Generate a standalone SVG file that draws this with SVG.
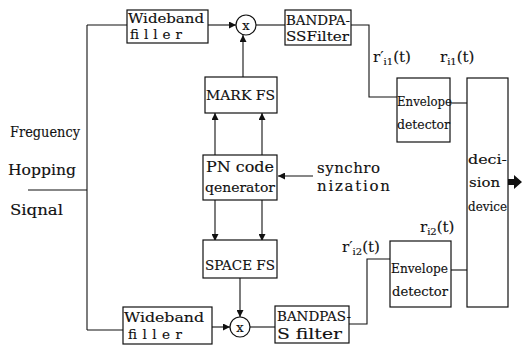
<svg xmlns="http://www.w3.org/2000/svg" width="525" height="345" viewBox="0 0 525 345">
<style>
  .box{fill:#fff;stroke:#111;stroke-width:1.2}
  .ln{fill:none;stroke:#111;stroke-width:1.1}
  .t{fill:#111;font-size:15px;stroke:#111;stroke-width:0.15}
  .s{font-size:13px}
  .w{font-size:13.5px}
  .sub{font-size:10px}
</style>
<defs>
  <marker id="ah" viewBox="0 0 10 10" refX="10" refY="5" markerWidth="7" markerHeight="7" orient="auto" markerUnits="userSpaceOnUse">
    <path d="M0,0 L10,5 L0,10 z" fill="#111"/>
  </marker>
</defs>
<rect width="525" height="345" fill="#fff"/>
<g id="connectors">
  <path class="ln" d="M28,190 H87"/>
  <path class="ln" d="M87,25 V330"/>
  <path class="ln" d="M87,25 H127"/>
  <path class="ln" d="M87,330 H123"/>
  <path class="ln" d="M208,25 H236" marker-end="url(#ah)"/>
  <path class="ln" d="M256,25 H285"/>
  <path class="ln" d="M243,77 V35" marker-end="url(#ah)"/>
  <path class="ln" d="M351,25 H369 V97 H397"/>
  <path class="ln" d="M450,103 H467"/>
  <path class="ln" d="M215,155 V113" marker-end="url(#ah)"/>
  <path class="ln" d="M262,155 V113" marker-end="url(#ah)"/>
  <path class="ln" d="M215,200 V241" marker-end="url(#ah)"/>
  <path class="ln" d="M262,200 V241" marker-end="url(#ah)"/>
  <path class="ln" d="M313,176 H278" marker-end="url(#ah)"/>
  <path class="ln" d="M240,278 V317" marker-end="url(#ah)"/>
  <path class="ln" d="M212,327 H230" marker-end="url(#ah)"/>
  <path class="ln" d="M250,327 H275"/>
  <path class="ln" d="M349,324 H367 V259 H390"/>
  <path class="ln" d="M451,270 H467"/>
  <path d="M508,179 H514 V175 L522,182 L514,189 V185 H508 z" fill="#111"/>
</g>
<g font-family="DejaVu Serif, Liberation Serif, Times New Roman, serif">
<g id="input-label" class="t">
  <text x="10" y="137" textLength="70" lengthAdjust="spacingAndGlyphs">Freguency</text>
  <text x="8" y="175" textLength="68" lengthAdjust="spacingAndGlyphs">Hopping</text>
  <text x="10" y="215" textLength="53" lengthAdjust="spacingAndGlyphs">Siqnal</text>
</g>
<g id="wideband-top" class="t">
  <rect class="box" x="127" y="10" width="81" height="33"/>
  <text x="128" y="23" class="w" textLength="76" lengthAdjust="spacingAndGlyphs">Wideband</text>
  <text x="130" y="39" class="w" textLength="52" lengthAdjust="spacing">filler</text>
</g>
<g id="mult-top" class="t">
  <circle class="box" cx="246" cy="25" r="10"/>
  <text x="246" y="30" text-anchor="middle" class="s">x</text>
</g>
<g id="bandpass-top" class="t">
  <rect class="box" x="285" y="10" width="66" height="35"/>
  <text x="286" y="25" class="s" textLength="64" lengthAdjust="spacingAndGlyphs">BANDPA-</text>
  <text x="286" y="41" class="s" textLength="63" lengthAdjust="spacingAndGlyphs">SSFilter</text>
</g>
<g id="envelope-top" class="t">
  <rect class="box" x="397" y="78" width="53" height="64"/>
  <text x="397" y="106" class="s" textLength="55" lengthAdjust="spacingAndGlyphs">Envelope</text>
  <text x="397" y="129" class="s" textLength="53" lengthAdjust="spacingAndGlyphs">detector</text>
</g>
<g id="mark-fs" class="t">
  <rect class="box" x="205" y="77" width="72" height="36"/>
  <text x="206" y="100" class="s" textLength="69" lengthAdjust="spacingAndGlyphs">MARK FS</text>
</g>
<g id="pn-code" class="t">
  <rect class="box" x="203" y="155" width="74" height="45"/>
  <text x="206" y="172" textLength="68" lengthAdjust="spacingAndGlyphs">PN code</text>
  <text x="205" y="192" class="s" textLength="70" lengthAdjust="spacingAndGlyphs">qenerator</text>
</g>
<g id="sync-label" class="t">
  <text x="317" y="173" textLength="63" lengthAdjust="spacing">synchro</text>
  <text x="317" y="191" textLength="73" lengthAdjust="spacing">nization</text>
</g>
<g id="space-fs" class="t">
  <rect class="box" x="203" y="240" width="74" height="38"/>
  <text x="205" y="270" class="s" textLength="70" lengthAdjust="spacingAndGlyphs">SPACE FS</text>
</g>
<g id="wideband-bottom" class="t">
  <rect class="box" x="123" y="307" width="89" height="37"/>
  <text x="124" y="322" class="w" textLength="80" lengthAdjust="spacingAndGlyphs">Wideband</text>
  <text x="128" y="339" class="w" textLength="54" lengthAdjust="spacing">filler</text>
</g>
<g id="mult-bottom" class="t">
  <circle class="box" cx="240" cy="327" r="10"/>
  <text x="240" y="332" text-anchor="middle" class="s">x</text>
</g>
<g id="bandpass-bottom" class="t">
  <rect class="box" x="275" y="306" width="74" height="37"/>
  <text x="277" y="321" class="s" textLength="74" lengthAdjust="spacingAndGlyphs">BANDPAS-</text>
  <text x="277" y="339" textLength="65" lengthAdjust="spacingAndGlyphs">S filter</text>
</g>
<g id="envelope-bottom" class="t">
  <rect class="box" x="390" y="241" width="61" height="66"/>
  <text x="391" y="273" class="s" textLength="57" lengthAdjust="spacingAndGlyphs">Envelope</text>
  <text x="392" y="296" class="s" textLength="56" lengthAdjust="spacingAndGlyphs">detector</text>
</g>
<g id="decision" class="t">
  <rect class="box" x="467" y="78" width="41" height="229"/>
  <text x="468" y="164" class="s" textLength="39" lengthAdjust="spacingAndGlyphs">deci-</text>
  <text x="469" y="187" class="s" textLength="31" lengthAdjust="spacingAndGlyphs">sion</text>
  <text x="468" y="211" class="s" textLength="39" lengthAdjust="spacingAndGlyphs">device</text>
</g>
<g id="signal-labels" class="t">
  <text x="373" y="62">r′<tspan class="sub" dy="3">i1</tspan><tspan dy="-3">(t)</tspan></text>
  <text x="440" y="62">r<tspan class="sub" dy="3">i1</tspan><tspan dy="-3">(t)</tspan></text>
  <text x="342" y="252">r′<tspan class="sub" dy="3">i2</tspan><tspan dy="-3">(t)</tspan></text>
  <text x="420" y="232">r<tspan class="sub" dy="3">i2</tspan><tspan dy="-3">(t)</tspan></text>
</g>
</g>
</svg>
